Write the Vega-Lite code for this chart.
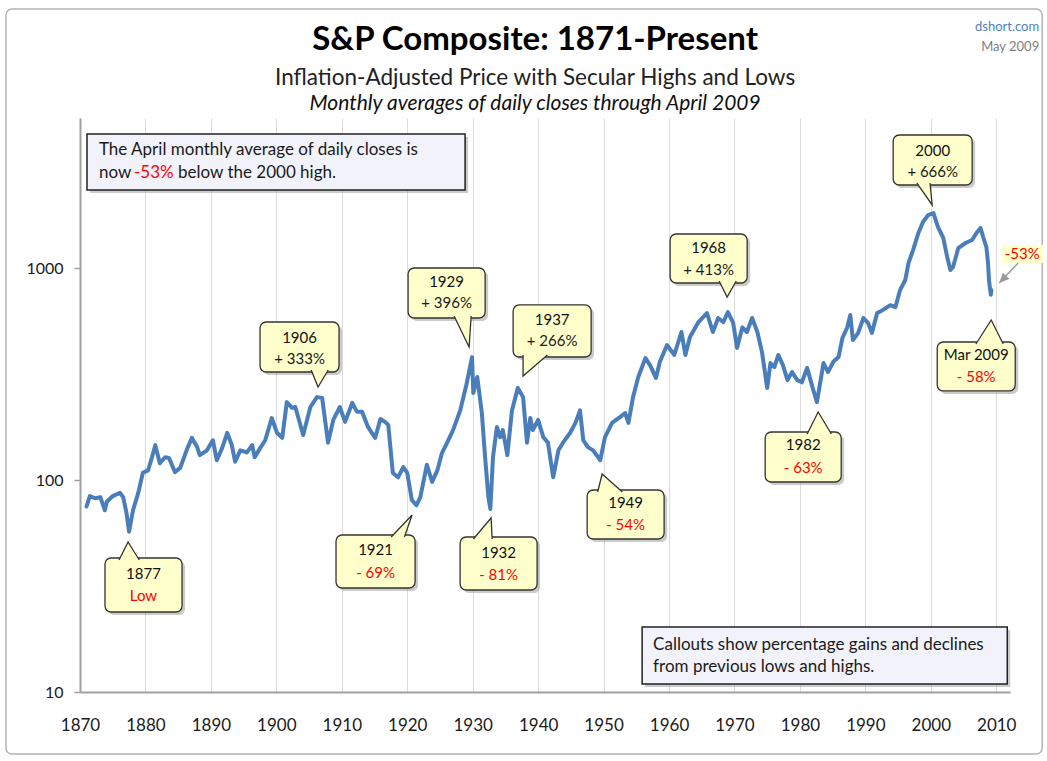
{
  "$schema": "https://vega.github.io/schema/vega-lite/v6.json",
  "width": 930,
  "height": 574,
  "autosize": "none",
  "padding": {"left": 80, "top": 118, "right": 37, "bottom": 69},
  "background": "#ffffff",
  "config": {"font": "Lato", "view": {"stroke": null}},
  "datasets": {
    "series": [
      {"year":1871.0,"value":75},{"year":1871.5,"value":84},{"year":1872.3,"value":82},{"year":1873.1,"value":83},{"year":1873.8,"value":72},{"year":1874.1,"value":79},{"year":1875.0,"value":84},{"year":1876.1,"value":87},{"year":1876.6,"value":83},{"year":1877.1,"value":70},{"year":1877.5,"value":57},{"year":1878.1,"value":72},{"year":1878.9,"value":87},{"year":1879.6,"value":108},{"year":1880.4,"value":111},{"year":1881.0,"value":128},{"year":1881.5,"value":146},{"year":1882.2,"value":120},{"year":1883.0,"value":128},{"year":1883.6,"value":127},{"year":1884.5,"value":109},{"year":1885.3,"value":114},{"year":1886.4,"value":141},{"year":1887.1,"value":158},{"year":1887.9,"value":143},{"year":1888.3,"value":131},{"year":1889.4,"value":138},{"year":1890.3,"value":154},{"year":1890.9,"value":124},{"year":1891.7,"value":141},{"year":1892.5,"value":167},{"year":1893.2,"value":146},{"year":1893.7,"value":122},{"year":1894.5,"value":138},{"year":1895.5,"value":135},{"year":1896.3,"value":146},{"year":1896.7,"value":128},{"year":1897.5,"value":141},{"year":1898.3,"value":154},{"year":1899.3,"value":196},{"year":1900.1,"value":167},{"year":1900.9,"value":158},{"year":1901.6,"value":233},{"year":1902.4,"value":219},{"year":1902.9,"value":221},{"year":1904.1,"value":163},{"year":1905.2,"value":221},{"year":1906.2,"value":246},{"year":1907.0,"value":244},{"year":1907.9,"value":150},{"year":1908.7,"value":192},{"year":1909.7,"value":221},{"year":1910.5,"value":188},{"year":1911.6,"value":231},{"year":1912.3,"value":210},{"year":1913.1,"value":210},{"year":1914.0,"value":178},{"year":1915.1,"value":158},{"year":1915.9,"value":194},{"year":1916.6,"value":188},{"year":1917.1,"value":182},{"year":1917.8,"value":108},{"year":1918.6,"value":103},{"year":1919.4,"value":115},{"year":1920.0,"value":108},{"year":1920.7,"value":80.5},{"year":1921.4,"value":76},{"year":1922.0,"value":83},{"year":1923.0,"value":118},{"year":1923.8,"value":98},{"year":1924.6,"value":111},{"year":1925.3,"value":134},{"year":1926.1,"value":150},{"year":1927.0,"value":172},{"year":1928.1,"value":213},{"year":1929.1,"value":287},{"year":1929.9,"value":380},{"year":1930.1,"value":257},{"year":1930.7,"value":306},{"year":1931.4,"value":207},{"year":1931.9,"value":128},{"year":1932.4,"value":83},{"year":1932.7,"value":73},{"year":1933.1,"value":128},{"year":1933.7,"value":178},{"year":1934.2,"value":159},{"year":1934.6,"value":172},{"year":1935.3,"value":131},{"year":1936.0,"value":213},{"year":1936.9,"value":272},{"year":1937.7,"value":246},{"year":1938.3,"value":150},{"year":1938.8,"value":196},{"year":1939.2,"value":172},{"year":1940.0,"value":192},{"year":1940.8,"value":159},{"year":1941.5,"value":150},{"year":1942.3,"value":103},{"year":1943.1,"value":138},{"year":1943.8,"value":150},{"year":1944.9,"value":167},{"year":1945.7,"value":186},{"year":1946.4,"value":213},{"year":1946.9,"value":154},{"year":1947.6,"value":143},{"year":1948.4,"value":138},{"year":1949.5,"value":124},{"year":1950.2,"value":159},{"year":1951.3,"value":186},{"year":1952.5,"value":198},{"year":1953.3,"value":207},{"year":1953.8,"value":186},{"year":1954.5,"value":246},{"year":1955.3,"value":306},{"year":1956.4,"value":376},{"year":1957.1,"value":348},{"year":1958.0,"value":303},{"year":1958.6,"value":361},{"year":1959.7,"value":433},{"year":1960.8,"value":389},{"year":1961.9,"value":499},{"year":1962.5,"value":389},{"year":1963.2,"value":473},{"year":1964.5,"value":556},{"year":1965.8,"value":613},{"year":1966.7,"value":499},{"year":1967.5,"value":581},{"year":1968.3,"value":556},{"year":1969.0,"value":620},{"year":1969.8,"value":551},{"year":1970.4,"value":420},{"year":1971.2,"value":525},{"year":1971.9,"value":499},{"year":1972.7,"value":581},{"year":1973.5,"value":499},{"year":1974.2,"value":402},{"year":1975.0,"value":272},{"year":1975.5,"value":356},{"year":1976.1,"value":341},{"year":1976.7,"value":389},{"year":1977.4,"value":348},{"year":1978.1,"value":296},{"year":1978.8,"value":323},{"year":1979.6,"value":296},{"year":1980.3,"value":289},{"year":1981.1,"value":338},{"year":1981.9,"value":275},{"year":1982.6,"value":233},{"year":1983.6,"value":356},{"year":1984.3,"value":323},{"year":1985.1,"value":361},{"year":1985.9,"value":380},{"year":1986.5,"value":468},{"year":1987.2,"value":521},{"year":1987.7,"value":600},{"year":1988.1,"value":457},{"year":1988.9,"value":494},{"year":1989.7,"value":581},{"year":1990.4,"value":551},{"year":1991.0,"value":494},{"year":1991.8,"value":613},{"year":1992.7,"value":634},{"year":1993.8,"value":668},{"year":1994.6,"value":654},{"year":1995.3,"value":787},{"year":1996.1,"value":878},{"year":1996.6,"value":1057},{"year":1997.3,"value":1217},{"year":1998.1,"value":1463},{"year":1998.8,"value":1648},{"year":1999.6,"value":1778},{"year":2000.4,"value":1816},{"year":2001.1,"value":1560},{"year":2001.9,"value":1386},{"year":2002.5,"value":1128},{"year":2003.0,"value":979},{"year":2003.4,"value":1011},{"year":2004.2,"value":1242},{"year":2005.3,"value":1312},{"year":2006.3,"value":1355},{"year":2007.1,"value":1480},{"year":2007.6,"value":1545},{"year":2008.0,"value":1400},{"year":2008.5,"value":1250},{"year":2008.75,"value":1050},{"year":2008.9,"value":870},{"year":2009.0,"value":820},{"year":2009.17,"value":747},{"year":2009.25,"value":787}
    ],
    "callouts": [
      {"id":"1877","x1":1873.82,"x2":1885.59,"top":42.87,"bot":23.84,"tx":1879.70,"ty1":36.03,"ty2":28.37,"tipx":1877.34,"tipy":50.99,"l1":"1877","l2":"Low","tone":"alert"},
      {"id":"1906","x1":1897.51,"x2":1909.58,"top":556.3,"bot":323.1,"tx":1903.55,"ty1":467.6,"ty2":372.2,"tipx":1906.37,"tipy":274.6,"l1":"1906","l2":"+ 333%","tone":"plain"},
      {"id":"1921","x1":1909.12,"x2":1921.20,"top":55.03,"bot":30.94,"tx":1915.16,"ty1":46.76,"ty2":36.42,"tipx":1920.74,"tipy":68.39,"l1":"1921","l2":"- 69%","tone":"alert"},
      {"id":"1929","x1":1920.13,"x2":1931.90,"top":1000,"bot":581.0,"tx":1926.01,"ty1":859.0,"ty2":683.9,"tipx":1929.45,"tipy":424.0,"l1":"1929","l2":"+ 396%","tone":"plain"},
      {"id":"1932","x1":1928.08,"x2":1939.84,"top":53.84,"bot":30.28,"tx":1933.96,"ty1":45.25,"ty2":35.64,"tipx":1932.81,"tipy":66.20,"l1":"1932","l2":"- 81%","tone":"alert"},
      {"id":"1937","x1":1936.18,"x2":1948.10,"top":669.3,"bot":380.4,"tx":1942.14,"ty1":568.6,"ty2":452.5,"tipx":1937.70,"tipy":309.4,"l1":"1937","l2":"+ 266%","tone":"plain"},
      {"id":"1949","x1":1947.49,"x2":1959.25,"top":89.7,"bot":52.68,"tx":1953.37,"ty1":77.9,"ty2":61.33,"tipx":1949.78,"tipy":106.7,"l1":"1949","l2":"- 54%","tone":"alert"},
      {"id":"1968","x1":1960.17,"x2":1971.94,"top":1447,"bot":849.8,"tx":1966.05,"ty1":1243,"ty2":978.6,"tipx":1968.88,"tipy":729.8,"l1":"1968","l2":"+ 413%","tone":"plain"},
      {"id":"1982","x1":1974.69,"x2":1986.31,"top":168.4,"bot":97.86,"tx":1980.50,"ty1":146.3,"ty2":113.9,"tipx":1982.79,"tipy":209.3,"l1":"1982","l2":"- 63%","tone":"alert"},
      {"id":"2000","x1":1994.25,"x2":2006.32,"top":4240,"bot":2463,"tx":2000.29,"ty1":3564,"ty2":2837,"tipx":2000.21,"tipy":1983,"l1":"2000","l2":"+ 666%","tone":"plain"},
      {"id":"Mar 2009","x1":2000.98,"x2":2012.90,"top":447.6,"bot":263.0,"tx":2006.94,"ty1":388.6,"ty2":306.0,"tipx":2009.23,"tipy":568.6,"l1":"Mar 2009","l2":"- 58%","tone":"alert"}
    ],
    "boxes": [
      {"x1":1871.07,"x2":1928.84,"top":4286,"bot":2333},
      {"x1":1955.89,"x2":2011.68,"top":20.25,"bot":10.91}
    ],
    "notes": [
      {"x":1872.90,"y":3602,"text":"The April monthly average of daily closes is","tone":"plain"},
      {"x":1872.90,"y":2806,"text":"now","tone":"plain"},
      {"x":1878.25,"y":2806,"text":"-53%","tone":"alert"},
      {"x":1884.98,"y":2806,"text":"below the 2000 high.","tone":"plain"},
      {"x":1957.57,"y":16.66,"text":"Callouts show percentage gains and declines","tone":"plain"},
      {"x":1957.57,"y":13.12,"text":"from previous lows and highs.","tone":"plain"}
    ],
    "latest": [
      {"x1":2010.91,"x2":2017.18,"top":1284,"bot":1056,"tx":2013.97,"ty":1164,"label":"-53%","tone":"alert","ax":2013.35,"ay":1056,"bx":2010.45,"by":849.8}
    ],
    "frame": [
      {"x1":1858.69,"x2":2017.02,"top":16659,"bot":5.099}
    ]
  },
  "layer": [
    {
      "data": {"name": "frame"},
      "mark": {"type": "rect", "fill": null, "stroke": "#b4b4b4", "strokeWidth": 1.5, "cornerRadius": 6},
      "encoding": {
        "x": {"field": "x1", "type": "quantitative", "title": null}, "x2": {"field": "x2"},
        "y": {"field": "top", "type": "quantitative", "title": null}, "y2": {"field": "bot"}
      }
    },
    {
      "data": {"name": "series"},
      "mark": {"type": "line", "color": "#4A7EBB", "strokeWidth": 4, "strokeJoin": "round", "strokeCap": "round"},
      "encoding": {
        "x": {"field": "year", "type": "quantitative", "title": null,
          "scale": {"type": "linear", "domain": [1870, 2012.1], "nice": false, "zero": false},
          "axis": {"values": [1870,1880,1890,1900,1910,1920,1930,1940,1950,1960,1970,1980,1990,2000,2010], "format": "d",
            "grid": true, "gridColor": "#dcdcdc", "gridWidth": 1, "ticks": false,
            "domainColor": "#a0a0a0", "domainWidth": 2,
            "labelFont": "Lato", "labelFontSize": 17, "labelColor": "#1a1a1a", "labelPadding": 25, "labelFlush": false, "labelOverlap": false}},
        "y": {"field": "value", "type": "quantitative", "title": null,
          "scale": {"type": "log", "domain": [10, 5100], "nice": false},
          "axis": {"values": [10, 100, 1000], "format": "d", "grid": false, "tickSize": 6, "tickColor": "#a0a0a0", "tickWidth": 1.5,
            "domainColor": "#a0a0a0", "domainWidth": 2,
            "labelFont": "Lato", "labelFontSize": 16, "labelColor": "#1a1a1a", "labelPadding": 11}}
      }
    },
    {
      "data": {"name": "boxes"},
      "mark": {"type": "rect", "fill": "#8c8c8c", "opacity": 0.45, "xOffset": 3, "x2Offset": 3, "yOffset": 3, "y2Offset": 3},
      "encoding": {
        "x": {"field": "x1", "type": "quantitative", "title": null}, "x2": {"field": "x2"},
        "y": {"field": "top", "type": "quantitative", "title": null}, "y2": {"field": "bot"}
      }
    },
    {
      "data": {"name": "boxes"},
      "mark": {"type": "rect", "fill": "#f2f2fa", "stroke": "#222222", "strokeWidth": 1.5},
      "encoding": {
        "x": {"field": "x1", "type": "quantitative", "title": null}, "x2": {"field": "x2"},
        "y": {"field": "top", "type": "quantitative", "title": null}, "y2": {"field": "bot"}
      }
    },
    {
      "data": {"name": "notes"},
      "mark": {"type": "text", "align": "left", "baseline": "middle", "font": "Lato", "fontSize": 17},
      "encoding": {
        "x": {"field": "x", "type": "quantitative", "title": null},
        "y": {"field": "y", "type": "quantitative", "title": null},
        "text": {"field": "text"},
        "color": {"field": "tone", "type": "nominal", "legend": null, "scale": {"domain": ["plain", "alert"], "range": ["#1a1a1a", "#ff0000"]}}
      }
    },
    {
      "data": {"name": "callouts"},
      "mark": {"type": "rect", "fill": "#8c8c8c", "opacity": 0.45, "cornerRadius": 6, "xOffset": 3, "x2Offset": 3, "yOffset": 3, "y2Offset": 3},
      "encoding": {
        "x": {"field": "x1", "type": "quantitative", "title": null}, "x2": {"field": "x2"},
        "y": {"field": "top", "type": "quantitative", "title": null}, "y2": {"field": "bot"}
      }
    },
    {
      "data": {"name": "callouts"},
      "mark": {"type": "rect", "fill": "#ffffcc", "stroke": "#333333", "strokeWidth": 1.3, "cornerRadius": 6},
      "encoding": {
        "x": {"field": "x1", "type": "quantitative", "title": null}, "x2": {"field": "x2"},
        "y": {"field": "top", "type": "quantitative", "title": null}, "y2": {"field": "bot"}
      }
    },
    {
      "data": {"name": "callouts"},
      "mark": {"type": "point", "filled": true, "fill": "#ffffcc", "stroke": "#333333", "strokeWidth": 1.3, "opacity": 1, "fillOpacity": 1, "strokeOpacity": 1, "size": 4},
      "encoding": {
        "x": {"field": "tipx", "type": "quantitative", "title": null},
        "y": {"field": "tipy", "type": "quantitative", "title": null},
        "shape": {"field": "id", "type": "nominal", "legend": null,
          "scale": {"domain": ["1877","1906","1921","1929","1932","1937","1949","1968","1982","2000","Mar 2009"],
            "range": ["M-9,18L0,0L11.25,18", "M-6.8,-17L0,0L10.2,-17", "M-20.9,22L0,0L-7.7,22", "M-15,-31L0,0L2.1,-31", "M-17.7,21L0,0L1.1,21", "M0,-21L0,0L24.3,-21", "M-4.5,18L0,0L20.25,18", "M-8,-16L0,0L9.1,-16", "M-11,22L0,0L13.2,22", "M-15.4,-22L0,0L-2.2,-22", "M-15.3,24L0,0L12,24"]}}
      }
    },
    {
      "data": {"name": "callouts"},
      "mark": {"type": "text", "align": "center", "baseline": "middle", "font": "Lato", "fontSize": 15, "color": "#111111"},
      "encoding": {
        "x": {"field": "tx", "type": "quantitative", "title": null},
        "y": {"field": "ty1", "type": "quantitative", "title": null},
        "text": {"field": "l1"}
      }
    },
    {
      "data": {"name": "callouts"},
      "mark": {"type": "text", "align": "center", "baseline": "middle", "font": "Lato", "fontSize": 15},
      "encoding": {
        "x": {"field": "tx", "type": "quantitative", "title": null},
        "y": {"field": "ty2", "type": "quantitative", "title": null},
        "text": {"field": "l2"},
        "color": {"field": "tone", "type": "nominal", "legend": null, "scale": {"domain": ["plain", "alert"], "range": ["#1a1a1a", "#ff0000"]}}
      }
    },
    {
      "data": {"name": "latest"},
      "mark": {"type": "rect", "fill": "#ffffcc"},
      "encoding": {
        "x": {"field": "x1", "type": "quantitative", "title": null}, "x2": {"field": "x2"},
        "y": {"field": "top", "type": "quantitative", "title": null}, "y2": {"field": "bot"}
      }
    },
    {
      "data": {"name": "latest"},
      "mark": {"type": "text", "align": "center", "baseline": "middle", "font": "Lato", "fontSize": 15},
      "encoding": {
        "x": {"field": "tx", "type": "quantitative", "title": null},
        "y": {"field": "ty", "type": "quantitative", "title": null},
        "text": {"field": "label"},
        "color": {"field": "tone", "type": "nominal", "legend": null, "scale": {"domain": ["plain", "alert"], "range": ["#1a1a1a", "#ff0000"]}}
      }
    },
    {
      "data": {"name": "latest"},
      "mark": {"type": "rule", "color": "#9a9a9a", "strokeWidth": 1.5},
      "encoding": {
        "x": {"field": "ax", "type": "quantitative", "title": null}, "x2": {"field": "bx"},
        "y": {"field": "ay", "type": "quantitative", "title": null}, "y2": {"field": "by"}
      }
    },
    {
      "data": {"name": "latest"},
      "mark": {"type": "point", "shape": "M0,0L-4.5,10L4.5,10Z", "size": 4, "angle": 224, "filled": true, "color": "#9a9a9a", "opacity": 1},
      "encoding": {
        "x": {"field": "bx", "type": "quantitative", "title": null},
        "y": {"field": "by", "type": "quantitative", "title": null}
      }
    },
    {
      "data": {"values": [{}]},
      "mark": {"type": "text", "align": "center", "baseline": "middle", "font": "Lato", "fontSize": 33, "fontWeight": "bold", "color": "#000000"},
      "encoding": {
        "x": {"datum": 1939.54, "type": "quantitative"},
        "y": {"datum": 11899, "type": "quantitative"},
        "text": {"value": "S&P Composite: 1871-Present"}
      }
    },
    {
      "data": {"values": [{}]},
      "mark": {"type": "text", "align": "center", "baseline": "middle", "font": "Lato", "fontSize": 22.5, "color": "#222222"},
      "encoding": {
        "x": {"datum": 1939.54, "type": "quantitative"},
        "y": {"datum": 7873, "type": "quantitative"},
        "text": {"value": "Inflation-Adjusted Price with Secular Highs and Lows"}
      }
    },
    {
      "data": {"values": [{}]},
      "mark": {"type": "text", "align": "center", "baseline": "middle", "font": "Lato", "fontSize": 21, "fontStyle": "italic", "color": "#111111"},
      "encoding": {
        "x": {"datum": 1939.54, "type": "quantitative"},
        "y": {"datum": 5936, "type": "quantitative"},
        "text": {"value": "Monthly averages of daily closes through April 2009"}
      }
    },
    {
      "data": {"values": [{}]},
      "mark": {"type": "text", "align": "right", "baseline": "middle", "font": "Lato", "fontSize": 13, "color": "#4f81bd"},
      "encoding": {
        "x": {"datum": 2016.56, "type": "quantitative"},
        "y": {"datum": 13701, "type": "quantitative"},
        "text": {"value": "dshort.com"}
      }
    },
    {
      "data": {"values": [{}]},
      "mark": {"type": "text", "align": "right", "baseline": "middle", "font": "Lato", "fontSize": 13, "color": "#808080"},
      "encoding": {
        "x": {"datum": 2016.56, "type": "quantitative"},
        "y": {"datum": 11030, "type": "quantitative"},
        "text": {"value": "May 2009"}
      }
    }
  ]
}
